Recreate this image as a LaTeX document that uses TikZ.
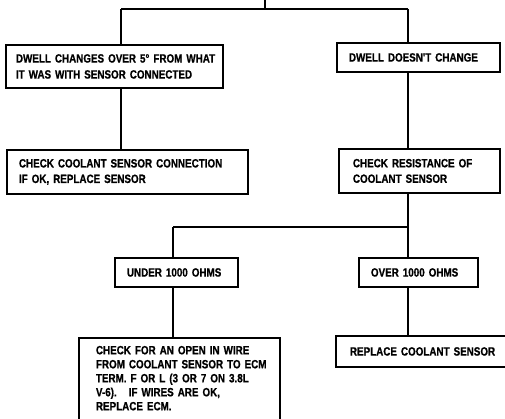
\documentclass[tikz,border=0pt]{standalone}
\usepackage{fontspec}
\newfontfamily\boxfont{Liberation Sans}[FakeStretch=0.82,FakeBold=0.8]
\begin{document}
\begin{tikzpicture}[x=1pt,y=-1pt,
  box/.style={draw, line width=1.9pt, rectangle, anchor=north west, inner sep=0pt,
    align=left, font=\boxfont\bfseries\fontsize{12}{16}\selectfont},
  lpad/.style={execute at begin node={\leftskip=#1\rightskip=-60pt plus 1fil\relax}},
  wire/.style={line width=1.8pt}]
\useasboundingbox (0,0) rectangle (505,419);
\clip (0,0) rectangle (505,419);

\node[box, lpad=10pt, text width=217pt, minimum height=43pt] (a) at (5,44)
  {DWELL CHANGES OVER 5° FROM WHAT\\IT WAS WITH SENSOR CONNECTED};
\node[box, lpad=12pt, text width=163pt, minimum height=29pt] (b) at (336,42)
  {DWELL DOESN'T CHANGE};
\node[box, lpad=12pt, text width=241pt, minimum height=44pt,
  font=\boxfont\bfseries\fontsize{12}{15.5}\selectfont] (c) at (6,149)
  {CHECK COOLANT SENSOR CONNECTION\\IF OK, REPLACE SENSOR};
\node[box, lpad=14pt, text width=161pt, minimum height=44pt,
  font=\boxfont\bfseries\fontsize{12}{15.5}\selectfont] (d) at (338,148)
  {CHECK RESISTANCE OF\\COOLANT SENSOR};
\node[box, lpad=12pt, text width=123pt, minimum height=29pt] (e) at (114,257)
  {UNDER 1000 OHMS};
\node[box, lpad=12pt, text width=119pt, minimum height=29pt] (f) at (358,257)
  {OVER 1000 OHMS};
\node[box, lpad=17pt, text width=201pt, inner ysep=8pt, text depth=75pt,
  font=\boxfont\bfseries\fontsize{12}{14}\selectfont] (g) at (78,337)
  {CHECK FOR AN OPEN IN WIRE\\FROM COOLANT SENSOR TO ECM\\TERM. F OR L (3 OR 7 ON 3.8L\\V-6).\ \ \ IF WIRES ARE OK,\\REPLACE ECM.};
\node[box, lpad=14pt, text width=185pt, minimum height=31pt] (h) at (335,335)
  {REPLACE COOLANT SENSOR};

\coordinate (top) at (265,0);
\coordinate (j1) at (265,9);
\coordinate (l1) at (121,9);
\coordinate (r1) at (408,9);
\coordinate (j2) at (408,227);
\coordinate (l2) at (173,227);

\draw[wire] (top) -- (j1);
\draw[wire] (l1) -- (r1);
\draw[wire] (l1) -- (l1 |- a.north);
\draw[wire] (r1) -- (r1 |- b.north);
\draw[wire] (a.south -| l1) -- (c.north -| l1);
\draw[wire] (b.south -| r1) -- (d.north -| r1);
\draw[wire] (d.south -| j2) -- (j2);
\draw[wire] (l2) -- (j2);
\draw[wire] (l2) -- (e.north -| l2);
\draw[wire] (j2) -- (f.north -| j2);
\draw[wire] (e.south -| l2) -- (g.north -| l2);
\draw[wire] (f.south -| r1) -- (h.north -| r1);
\end{tikzpicture}
\end{document}
